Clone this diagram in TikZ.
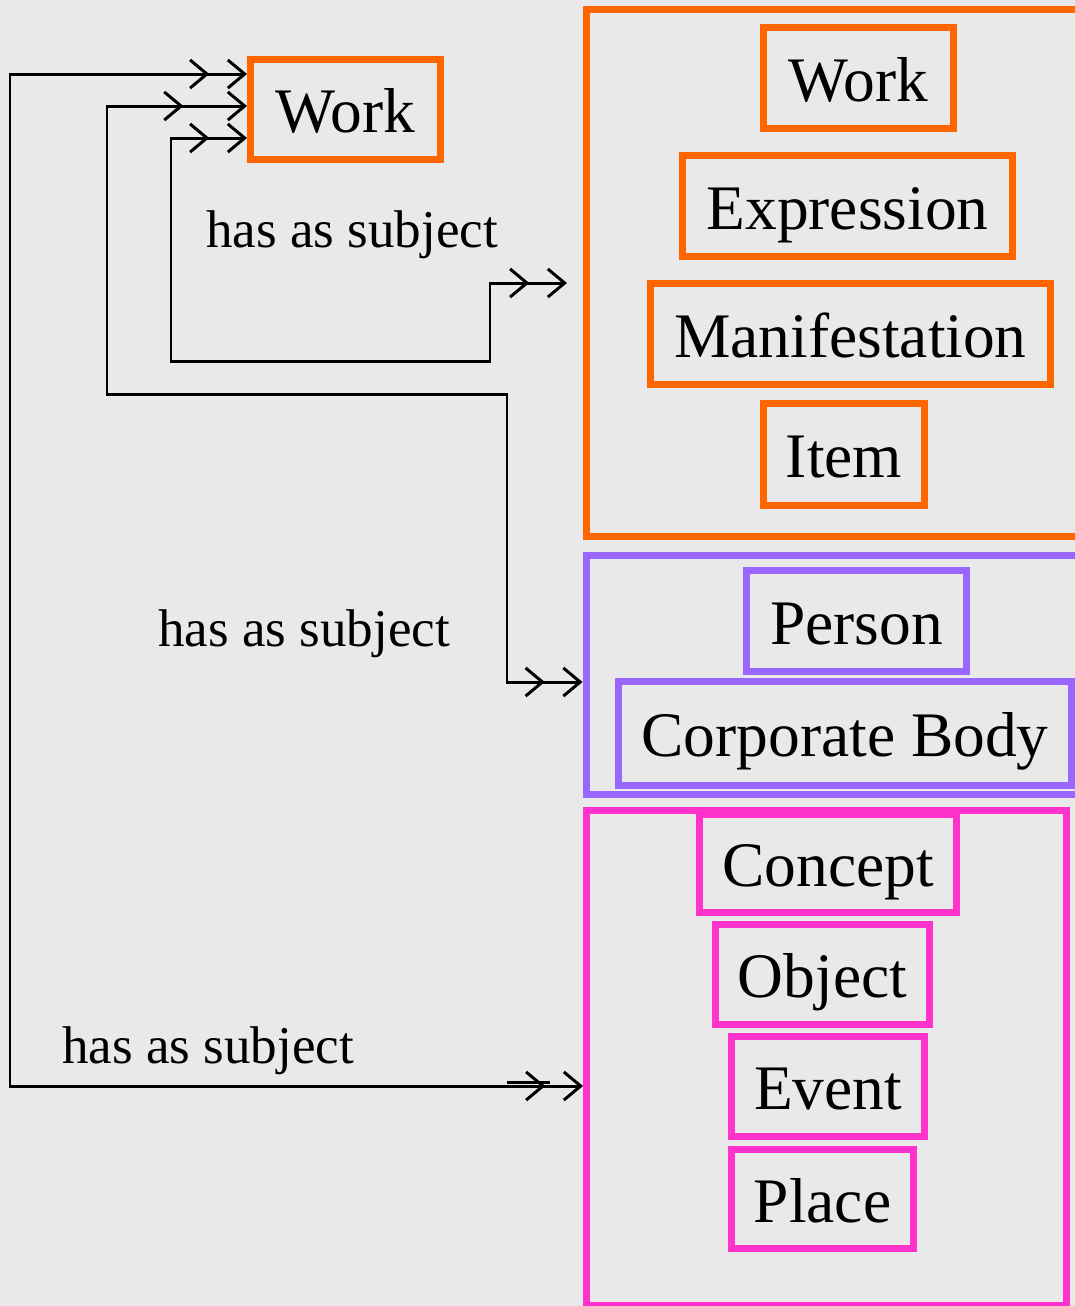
\documentclass[tikz,border=0pt]{standalone}
\usepackage{fontspec}
\setmainfont{Liberation Serif}
\usetikzlibrary{arrows.meta}
\definecolor{bggray}{HTML}{E9E9E9}
\definecolor{frbrorange}{HTML}{FF6600}
\definecolor{agentpurple}{HTML}{9966FF}
\definecolor{topicpink}{HTML}{FF33CC}
\begin{document}
\begin{tikzpicture}[x=0.02cm,y=-0.02cm,
    box/.style={draw,line width=4pt,inner sep=0pt,text height=26.3pt,text depth=0pt,
        font=\fontsize{36.1pt}{40pt}\selectfont},
    group/.style={draw,line width=4pt,inner sep=0pt},
    lbl/.style={inner sep=0pt,anchor=base west,font=\fontsize{30.2pt}{34pt}\selectfont},
    conn/.style={line width=1.7pt,black},
    dbl/.tip={Straight Barb[length=9.6pt,width=16pt,sep=9.7pt] Straight Barb[length=9.6pt,width=16pt]},
    dblwide/.tip={Straight Barb[length=9.6pt,width=16pt,sep=24.4pt] Straight Barb[length=9.6pt,width=16pt]}]
    \path[use as bounding box,fill=bggray] (0,0) rectangle (1075,1306);
    \clip (0,0) rectangle (1075,1306);
    % group boxes
    \node[group,frbrorange,minimum width=9.88cm,minimum height=10.54cm] (orange) at (833,273) {};
    \node[group,agentpurple,minimum width=9.88cm,minimum height=4.79cm] (purple) at (833,674.75) {};
    \node[group,topicpink,minimum width=9.60cm,minimum height=9.90cm] (pink) at (826.5,1058) {};
    % entities
    \node[box,frbrorange,text=black,minimum width=3.80cm,minimum height=2.0cm] (worksub) at (345.5,109.5) {Work};
    \node[box,frbrorange,text=black,minimum width=3.80cm,minimum height=2.02cm] (work) at (858.5,78) {Work};
    \node[box,frbrorange,text=black,minimum width=6.60cm,minimum height=2.02cm] (expression) at (847.5,206) {Expression};
    \node[box,frbrorange,text=black,minimum width=8.00cm,minimum height=2.02cm] (manifestation) at (850.5,334) {Manifestation};
    \node[box,frbrorange,text=black,minimum width=3.22cm,minimum height=2.04cm] (item) at (844,454.5) {Item};
    \node[box,agentpurple,text=black,minimum width=4.40cm,minimum height=2.02cm] (person) at (856.5,621) {Person};
    \node[box,agentpurple,text=black,minimum width=9.06cm,minimum height=2.08cm] (corporate) at (845,733.5) {Corporate Body};
    \node[box,topicpink,text=black,minimum width=5.14cm,minimum height=1.96cm] (concept) at (828,863.5) {Concept};
    \node[box,topicpink,text=black,minimum width=4.28cm,minimum height=2.0cm] (object) at (822.5,974.5) {Object};
    \node[box,topicpink,text=black,minimum width=3.86cm,minimum height=2.0cm] (event) at (828,1086.5) {Event};
    \node[box,topicpink,text=black,minimum width=3.64cm,minimum height=1.98cm] (place) at (822.5,1199) {Place};
    % subject links
    \coordinate (subjend) at (567,283);
    \draw[conn,{dbl}-{dbl}] (worksub.west |- 0,138) -| (171,361) -| (490,283) -- (subjend);
    \draw[conn,{dblwide}-{dbl}] (worksub.west |- 0,106) -| (107,394) -| (507,682) -- (purple.west |- 0,682);
    \draw[conn,{dbl}-{dbl}] (worksub.west |- 0,74) -| (10,1086) -- (pink.west |- 0,1086);
    \draw[conn] (507,1082) -- (550,1082);
    \node[lbl] (lblwork) at (206,247) {has as subject};
    \node[lbl] (lblagent) at (158,646) {has as subject};
    \node[lbl] (lbltopic) at (62,1063) {has as subject};
\end{tikzpicture}
\end{document}
